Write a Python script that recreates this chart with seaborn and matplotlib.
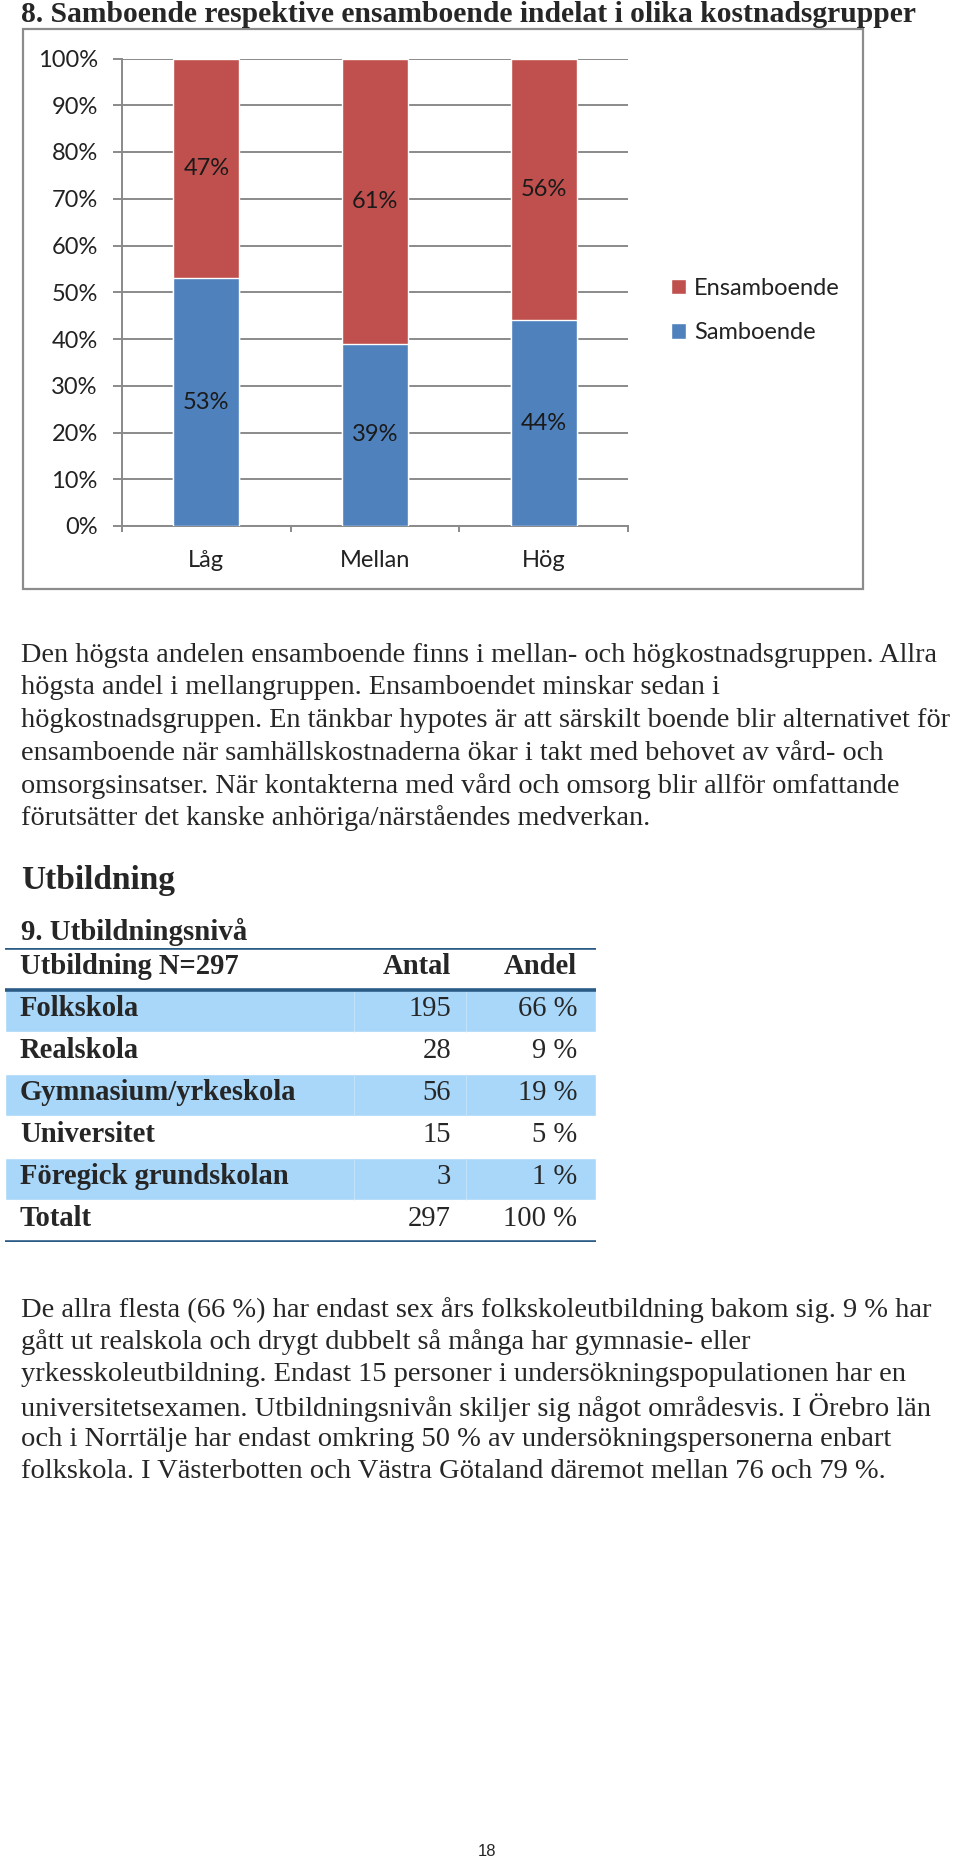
import numpy as np
import pandas as pd
import matplotlib
matplotlib.use("Agg")
import matplotlib.pyplot as plt
from matplotlib.patches import Patch, Rectangle
import seaborn as sns

# ---- chart data ----
categories = ["Låg", "Mellan", "Hög"]
samboende = [53, 39, 44]
ensamboende = [47, 61, 56]

# ---- table data ----
table_header = ["Utbildning N=297", "Antal", "Andel"]
utbildning = ["Folkskola", "Realskola", "Gymnasium/yrkeskola", "Universitet",
              "Föregick grundskolan", "Totalt"]
antal = [195, 28, 56, 15, 3, 297]
andel = [66, 9, 19, 5, 1, 100]

chart_title = "8. Samboende respektive ensamboende indelat i olika kostnadsgrupper"
para1 = [
    "Den högsta andelen ensamboende finns i mellan- och högkostnadsgruppen. Allra",
    "högsta andel i mellangruppen. Ensamboendet minskar sedan i",
    "högkostnadsgruppen. En tänkbar hypotes är att särskilt boende blir alternativet för",
    "ensamboende när samhällskostnaderna ökar i takt med behovet av vård- och",
    "omsorgsinsatser. När kontakterna med vård och omsorg blir allför omfattande",
    "förutsätter det kanske anhöriga/närståendes medverkan.",
]
para2 = [
    "De allra flesta (66 %) har endast sex års folkskoleutbildning bakom sig. 9 % har",
    "gått ut realskola och drygt dubbelt så många har gymnasie- eller",
    "yrkesskoleutbildning. Endast 15 personer i undersökningspopulationen har en",
    "universitetsexamen. Utbildningsnivån skiljer sig något områdesvis. I Örebro län",
    "och i Norrtälje har endast omkring 50 % av undersökningspersonerna enbart",
    "folkskola. I Västerbotten och Västra Götaland däremot mellan 76 och 79 %.",
]

RED = "#C0504D"
BLUE = "#4F81BD"
GRID = "#8a8a8a"
BAND = "#A9D7FA"
LINE = "#2A5B86"

W, H = 960, 1859
sns.set_theme(style="white")
plt.rcParams["font.family"] = ["Lato", "DejaVu Sans"]

fig = plt.figure(figsize=(W / 100, H / 100), dpi=100)


def fx(px):
    return px / W


def fy(py):
    return 1 - py / H


serif = ["Liberation Serif", "DejaVu Serif"]

# ---- chart frame and title ----
fig.patches.append(Rectangle((fx(23), fy(589)), fx(863) - fx(23), fy(29) - fy(589),
                             transform=fig.transFigure, fill=False,
                             edgecolor="#8c8c8c", lw=1.6))
fig.text(fx(21), fy(15), chart_title, family=serif, weight="bold",
         fontsize=21.3, va="center", ha="left")

# ---- stacked bar chart ----
ax = fig.add_axes([fx(122), fy(526), fx(628) - fx(122), fy(58.5) - fy(526)])
df = pd.DataFrame({"kategori": categories, "Samboende": samboende,
                   "Ensamboende": ensamboende})
df["total"] = df["Samboende"] + df["Ensamboende"]

sns.barplot(data=df, x="kategori", y="total", color=RED, saturation=1,
            width=0.39, ax=ax, zorder=2)
sns.barplot(data=df, x="kategori", y="Samboende", color=BLUE, saturation=1,
            width=0.39, ax=ax, zorder=3)

for i, row in df.iterrows():
    ax.text(i, row["Samboende"] / 2, f"{row['Samboende']}%", ha="center",
            va="center", fontsize=17, color="#1a1a1a", zorder=4)
    ax.text(i, row["Samboende"] + row["Ensamboende"] / 2,
            f"{row['Ensamboende']}%", ha="center", va="center",
            fontsize=17, color="#1a1a1a", zorder=4)

ax.set_ylim(0, 100)
ax.set_xlim(-0.5, 2.5)
ax.set_yticks(np.arange(0, 101, 10))
ax.set_yticklabels([f"{v}%" for v in range(0, 101, 10)], fontsize=17)
ax.set_xticklabels(categories, fontsize=17)
ax.set_xlabel("")
ax.set_ylabel("")
ax.yaxis.grid(True, color=GRID, lw=1.4)
ax.set_axisbelow(True)
for side in ["top", "right"]:
    ax.spines[side].set_visible(False)
for side in ["left", "bottom"]:
    ax.spines[side].set_color(GRID)
    ax.spines[side].set_linewidth(1.4)
ax.tick_params(axis="y", direction="out", length=6.5, width=1.4, color=GRID,
               pad=11, left=True, labelcolor="#222222")
ax.tick_params(axis="x", length=0, pad=17, labelcolor="#222222")
ax.set_xticks([-0.5, 0.5, 1.5, 2.5], minor=True)
ax.tick_params(axis="x", which="minor", direction="out", length=4,
               width=1.4, color=GRID, bottom=True)

handles = [Patch(facecolor=RED), Patch(facecolor=BLUE)]
fig.legend(handles, ["Ensamboende", "Samboende"], loc="center left",
           bbox_to_anchor=(fx(671), fy(310.5)), frameon=False, fontsize=17,
           handlelength=0.62, handleheight=0.62, handletextpad=0.35,
           labelspacing=1.0, borderpad=0, borderaxespad=0,
           labelcolor="#222222")

# ---- paragraph 1 ----
for k, line in enumerate(para1):
    fig.text(fx(21), fy(655 + k * 32.7), line, family=serif, fontsize=20.3,
             va="center", ha="left")

fig.text(fx(21), fy(880), "Utbildning", family=serif, weight="bold",
         fontsize=24, va="center", ha="left")
fig.text(fx(21), fy(932), "9. Utbildningsnivå", family=serif, weight="bold",
         fontsize=20.8, va="center", ha="left")

# ---- table ----
tx = fig.add_axes([fx(5), fy(1242), fx(596) - fx(5), fy(948) - fy(1242)])
n_rows = len(utbildning) + 1
tx.set_xlim(0, 1)
tx.set_ylim(n_rows, 0)
tx.axis("off")
band_rows = [i + 1 for i in range(len(utbildning)) if i % 2 == 0]
tx.barh(band_rows, [1] * len(band_rows), height=1, left=0, align="edge",
        color=BAND, zorder=1)
for br in band_rows:
    tx.vlines([0.59, 0.78], br, br + 1, color="#C9E6FC", lw=0.6, zorder=2)
tx.hlines([0, 1, n_rows], 0, 1, color=LINE, lw=2.6, zorder=3)

col_x = [0.025, 0.755, 0.968]
col_ha = ["left", "right", "right"]
for c, txt in enumerate(table_header):
    tx.text(col_x[c], 0.45, txt, family=serif, weight="bold", fontsize=20.6,
            ha=col_ha[c], va="center")
for r, (lab, a, p) in enumerate(zip(utbildning, antal, andel)):
    y = r + 1.45
    tx.text(col_x[0], y, lab, family=serif, weight="bold", fontsize=20.6,
            ha="left", va="center")
    tx.text(col_x[1], y, str(a), family=serif, fontsize=20.6, ha="right",
            va="center")
    tx.text(col_x[2], y, f"{p} %", family=serif, fontsize=20.6, ha="right",
            va="center")

# ---- paragraph 2 ----
for k, line in enumerate(para2):
    fig.text(fx(21), fy(1310 + k * 32.4), line, family=serif, fontsize=20.5,
             va="center", ha="left")

fig.text(fx(487), fy(1851), "18", family=["Liberation Sans", "DejaVu Sans"],
         fontsize=12, va="center", ha="center")

fig.savefig("out.png", dpi=100, facecolor="white")
